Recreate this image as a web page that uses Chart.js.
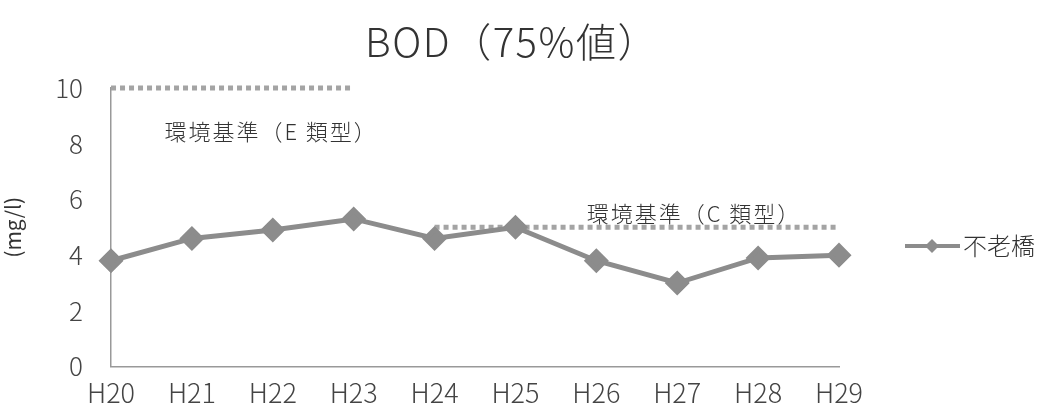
<!DOCTYPE html>
<html lang="ja">
<head>
<meta charset="UTF-8">
<title>BOD（75%値）</title>
<script src="https://cdn.jsdelivr.net/npm/chart.js@4"></script>
<style>
  body { margin: 0; background: #fff; }
  #wrap { width: 1043px; height: 412px; }
</style>
</head>
<body>
<div id="wrap"><canvas id="bodChart" width="1043" height="412"></canvas></div>
<script>
// データ
const years = ['H20', 'H21', 'H22', 'H23', 'H24', 'H25', 'H26', 'H27', 'H28', 'H29'];
const furouBashi = [3.8, 4.6, 4.9, 5.3, 4.6, 5.0, 3.8, 3.0, 3.9, 4.0];
const standardE = [10, 10, 10, 10, null, null, null, null, null, null];
const standardC = [null, null, null, null, 5, 5, 5, 5, 5, 5];
const yTicks = [0, 2, 4, 6, 8, 10];
const chartTitle = 'BOD（75%値）';

const FONT = '"Noto Sans CJK JP", "Noto Sans", sans-serif';
const lineColor = '#8c8c8c';
const dotColor = '#a4a4a4';

// タイトル・注記テキスト（環境基準）・凡例を描く
const notesPlugin = {
  id: 'notes',
  afterDraw(chart) {
    const ctx = chart.ctx;
    const x = chart.scales.x, y = chart.scales.y;
    ctx.save();
    ctx.textBaseline = 'middle';

    // タイトル（キャンバス中央）
    ctx.fillStyle = '#333';
    ctx.font = '300 40px ' + FONT;
    ctx.letterSpacing = '1.5px';
    ctx.textAlign = 'center';
    ctx.fillText(chartTitle, 512, 42);

    // 環境基準の注記
    ctx.textAlign = 'left';
    ctx.font = '300 22px ' + FONT;
    ctx.letterSpacing = '2px';
    ctx.fillText('環境基準（E 類型）', x.getPixelForValue(0.66), y.getPixelForValue(8.45));
    ctx.fillText('環境基準（C 類型）', x.getPixelForValue(5.88), y.getPixelForValue(5.5));

    // 凡例
    const ds = chart.data.datasets[0];
    const ly = 246, lx = 905;
    ctx.letterSpacing = '0px';
    ctx.strokeStyle = lineColor;
    ctx.lineWidth = 4;
    ctx.beginPath();
    ctx.moveTo(lx, ly);
    ctx.lineTo(lx + 55, ly);
    ctx.stroke();
    ctx.fillStyle = lineColor;
    ctx.beginPath();
    ctx.moveTo(lx + 27, ly - 7);
    ctx.lineTo(lx + 34, ly);
    ctx.lineTo(lx + 27, ly + 7);
    ctx.lineTo(lx + 20, ly);
    ctx.closePath();
    ctx.fill();
    ctx.fillStyle = '#333';
    ctx.font = '300 24px ' + FONT;
    ctx.fillText(ds.label, lx + 58, ly);
    ctx.restore();
  }
};

new Chart(document.getElementById('bodChart'), {
  type: 'line',
  data: {
    labels: years,
    datasets: [
      {
        label: '不老橋',
        data: furouBashi,
        borderColor: lineColor,
        backgroundColor: lineColor,
        borderWidth: 5,
        pointStyle: 'rectRot',
        pointRadius: 9,
        pointHoverRadius: 9,
        tension: 0
      },
      {
        label: '環境基準（E 類型）',
        data: standardE,
        borderColor: dotColor,
        borderWidth: 5,
        borderDash: [5, 4],
        pointRadius: 0,
        clip: false
      },
      {
        label: '環境基準（C 類型）',
        data: standardC,
        borderColor: dotColor,
        borderWidth: 5,
        borderDash: [5, 4],
        pointRadius: 0,
        clip: false
      }
    ]
  },
  options: {
    responsive: false,
    animation: false,
    layout: { padding: { top: 88, right: 204, bottom: 0, left: 0 } },
    plugins: {
      legend: { display: false },
      tooltip: { enabled: false },
      title: { display: false }
    },
    scales: {
      x: {
        offset: false,
        grid: { display: false, drawTicks: true, tickLength: 7, color: '#999' },
        border: { color: '#999', width: 1.5 },
        ticks: { color: '#444', font: { family: FONT, size: 27, weight: '300' }, padding: 3, maxRotation: 0 }
      },
      y: {
        min: 0,
        max: 10,
        afterBuildTicks(scale) { scale.ticks = yTicks.map(v => ({ value: v })); },
        grid: { display: false, drawTicks: true, tickLength: 4, color: '#999' },
        border: { color: '#999', width: 1.5 },
        ticks: { color: '#444', font: { family: FONT, size: 26, weight: '300' }, padding: 24 },
        title: {
          display: true,
          text: '(mg/l)',
          color: '#333',
          font: { family: FONT, size: 21 },
          padding: { top: 0, bottom: 6 }
        }
      }
    }
  },
  plugins: [notesPlugin]
});
</script>
</body>
</html>
